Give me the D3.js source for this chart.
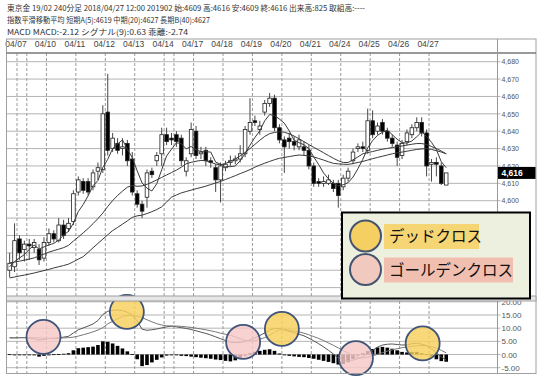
<!DOCTYPE html>
<html><head><meta charset="utf-8">
<script src="https://cdn.jsdelivr.net/npm/d3@7"></script>
<style>body{margin:0;background:#fff;}svg{display:block;}</style>
</head><body>
<svg id="chart" width="545" height="383"></svg>
<script>
// ---------- DATA ----------
const headerLines = [
  "東京金 19/02 240分足 2018/04/27 12:00 201902 始:4609 高:4616 安:4609 終:4616 出来高:825 取組高:----",
  "指数平滑移動平均 短期A(5):4619 中期(20):4627 長期B(40):4627",
  "MACD MACD:-2.12 シグナル(9):0.63 乖離:-2.74"
];
const dateLabels = ["04/07","04/10","04/11","04/12","04/13","04/14","04/17","04/18","04/19","04/20","04/21","04/24","04/25","04/26","04/27"];
const dayStartBar = [2,8,14,20,26,32,38,44,50,56,62,68,74,80,86];
const extraMarkBar = [4,34];
const opens  = [4560,4562,4578,4572,4575,4573,4572,4567,4576,4581,4577,4586,4584,4588,4605,4611,4611,4608,4617,4618,4651,4630,4633,4630,4633,4624,4604,4598,4602,4617,4623,4627,4638,4636,4638,4636,4617,4627,4640,4627,4629,4623,4619,4612,4619,4622,4623,4624,4627,4640,4646,4641,4651,4656,4659,4642,4635,4636,4634,4631,4631,4629,4620,4611,4610,4610,4610,4610,4608,4613,4623,4630,4631,4629,4646,4640,4645,4640,4636,4632,4626,4634,4638,4642,4645,4639,4621,4622,4620,4609];
const highs  = [4570,4587,4580,4577,4578,4578,4575,4579,4584,4583,4590,4589,4590,4606,4614,4613,4613,4618,4622,4655,4673,4639,4636,4636,4635,4628,4606,4600,4618,4619,4628,4642,4642,4639,4640,4638,4625,4645,4643,4631,4631,4625,4621,4622,4623,4626,4626,4632,4643,4659,4649,4646,4658,4662,4661,4644,4637,4639,4637,4638,4634,4632,4622,4613,4614,4615,4612,4612,4615,4619,4630,4633,4634,4653,4652,4645,4647,4642,4638,4634,4635,4641,4644,4648,4648,4641,4624,4625,4622,4616];
const lows   = [4556,4559,4566,4565,4566,4570,4563,4565,4574,4576,4576,4578,4582,4586,4603,4604,4603,4606,4612,4616,4626,4628,4627,4626,4620,4603,4596,4590,4596,4613,4620,4620,4632,4632,4631,4620,4614,4625,4624,4624,4620,4619,4605,4599,4617,4620,4621,4622,4625,4638,4643,4638,4649,4654,4640,4633,4616,4630,4629,4629,4626,4618,4608,4608,4608,4609,4605,4596,4606,4611,4621,4628,4628,4627,4636,4638,4638,4634,4631,4620,4624,4632,4636,4640,4637,4614,4611,4614,4609,4609];
const closes = [4564,4577,4570,4575,4574,4576,4566,4576,4581,4578,4586,4580,4587,4604,4612,4606,4605,4616,4619,4650,4629,4636,4629,4631,4623,4605,4598,4594,4616,4615,4626,4638,4634,4635,4634,4623,4623,4641,4626,4628,4623,4622,4612,4620,4621,4623,4624,4627,4641,4645,4645,4643,4656,4659,4642,4635,4631,4634,4632,4635,4629,4620,4610,4610,4611,4612,4607,4603,4613,4617,4628,4631,4630,4646,4638,4643,4640,4636,4633,4625,4633,4639,4642,4645,4639,4620,4622,4621,4610,4616];
const maShort = [4562,4565,4567,4569,4572,4574.4,4572.2,4573.4,4574.6,4575.4,4577.4,4580.2,4582.4,4587,4593.8,4597.8,4602.8,4608.6,4611.6,4619.2,4623.8,4630,4632.6,4635,4629.6,4624.8,4617.2,4610.2,4607.2,4605.6,4609.8,4617.8,4625.8,4629.6,4633.4,4632.8,4629.8,4631.2,4629.4,4628.2,4628.2,4628,4622.2,4621,4619.6,4619.6,4620,4623,4627.2,4632,4636.4,4640.2,4646,4649.6,4649,4647,4644.6,4640.2,4634.8,4633.4,4632.2,4630,4625.2,4620.8,4616,4612.6,4610,4608.6,4609.2,4610.4,4613.6,4618.4,4623.8,4630.4,4634.6,4637.6,4639.4,4640.6,4638,4635.4,4633.4,4633.2,4634.4,4636.8,4639.6,4637,4633.6,4629.4,4622.4,4619];
const maMid = [4564.2,4564.7,4565.2,4565.8,4566.4,4567.1,4568.2,4569.3,4570.4,4571.3,4572.1,4573,4574.3,4576.8,4579.1,4581.5,4584,4586.8,4589.7,4592.9,4596.7,4600.1,4603,4605.5,4607.8,4608.8,4608.3,4608.5,4609.5,4610.6,4612,4613.4,4614.8,4616.2,4617.6,4619.3,4621.3,4622.1,4622.7,4623.2,4623,4622.1,4621.1,4620.6,4621.4,4622.7,4624,4625.8,4627.8,4630,4632.4,4634.8,4637,4638.6,4639.3,4639.7,4639.4,4638.5,4637.2,4635.6,4634,4632.3,4630.7,4629.2,4627.6,4626,4624.4,4623,4622,4622,4623.5,4625.2,4627,4627.7,4628.3,4629,4629.6,4630.1,4630.6,4631,4631.5,4632,4632.5,4632.9,4632.9,4632.3,4631.2,4630,4628.6,4627];
const maLong = [4555.6,4556.1,4556.7,4557.2,4557.8,4558.4,4559.1,4559.8,4560.5,4561.3,4562,4562.7,4563.5,4564.9,4566.4,4567.8,4570.3,4572.9,4575.4,4577.9,4580.4,4582.8,4584.6,4586.5,4588.4,4590.4,4591.3,4591.7,4592.6,4593.7,4594.9,4596.5,4599.3,4602,4603.3,4604.5,4605.3,4606.1,4606.9,4607.6,4608.4,4609.3,4610.2,4611.1,4612.2,4613.3,4614.4,4615.6,4616.7,4617.9,4619.3,4620.5,4621.6,4622.6,4623.6,4624.4,4624.9,4625.4,4625.9,4626.3,4626.1,4625.7,4625.2,4624.3,4623.4,4622.4,4621.5,4621.2,4621,4620.9,4621.4,4622,4622.6,4623.4,4624.2,4624.9,4625.6,4626.3,4627,4627.5,4628,4628.5,4629,4629.5,4629.8,4630,4629.5,4628.8,4628,4627];
const macdLine = [6.4,6.3,6.4,6.4,6.2,6.0,5.5,5.7,6.1,6.2,6.4,6.6,6.9,8.2,9.4,10.1,10.8,11.6,12.9,15.2,16.4,16.8,16.9,16.7,16.0,15.0,12.7,9.6,9.2,9.4,9.7,10.1,10.5,10.8,10.5,10.2,9.9,9.5,9.0,8.5,8.0,7.4,6.7,6.0,5.3,4.7,4.5,4.6,5.0,5.6,6.3,7.2,8.2,9.3,9.9,9.8,9.3,8.8,8.3,7.7,7.1,6.2,5.2,4.1,2.9,1.6,0.2,-1.3,-2.1,-2.3,-2.1,-1.6,-0.8,0.3,1.6,2.8,3.6,3.9,4.0,3.8,3.6,3.7,4.1,4.3,3.9,3.4,2.2,0.6,-0.9,-2.12];
const signalLine = [6.3,6.4,6.4,6.4,6.4,6.3,6.3,6.2,6.1,6.1,6.2,6.3,6.4,6.6,7.0,7.5,8.0,8.6,9.3,10.2,11.6,12.6,13.6,14.4,14.8,14.8,14.5,14.0,13.2,12.4,11.7,11.2,10.9,10.8,10.8,10.7,10.5,10.3,10.0,9.7,9.4,9.0,8.6,8.1,7.7,7.3,6.7,6.0,5.4,5.1,5.3,5.8,6.4,7.3,8.5,9.4,9.5,9.3,9.0,8.6,8.1,7.5,6.8,6.1,5.3,4.4,3.5,2.5,1.5,0.6,-0.5,-1.2,-1.3,-1.0,-0.5,0.1,0.7,1.3,1.8,2.2,2.6,2.9,3.1,3.3,3.4,3.3,3.0,2.4,1.6,0.63];
const histogram = [0.1,-0.1,0,0,-0.2,-0.3,-0.8,-0.5,0,0.1,0.2,0.3,0.5,1.6,2.4,2.6,2.8,3.0,3.6,5.0,4.8,4.2,3.3,2.3,1.2,0.2,-1.8,-4.4,-4.0,-3.0,-2.0,-1.1,-0.4,0,-0.3,-0.5,-0.6,-0.8,-1.0,-1.2,-1.4,-1.6,-1.9,-2.1,-2.4,-2.6,-2.2,-1.4,-0.4,0.5,1.0,1.4,1.8,2.0,1.4,0.4,-0.2,-0.5,-0.7,-0.9,-1.0,-1.3,-1.6,-2.0,-2.4,-2.8,-3.3,-3.8,-3.6,-2.9,-1.6,-0.4,0.5,1.3,2.1,2.7,2.9,2.6,2.2,1.6,1.0,0.8,1.0,1.0,0.5,0.1,-0.8,-1.8,-2.5,-2.74];
const priceGridTicks = [4550,4560,4570,4580,4590,4600,4610,4620,4630,4640,4650,4660,4670,4680];
const priceLabelTicks = [4600,4610,4620,4630,4640,4650,4660,4670,4680];
const macdTicks = [-5,0,5,10,15,20];
const lastPrice = 4616;
const deadCrossBars = [23.9, 55.5, 84.2];
const deadCrossValues = [16.2, 9.7, 4.2];
const goldenCrossBars = [6.9, 47.6, 70.6];
const goldenCrossValues = [6.7, 4.8, -1.4];
const legendItems = ["デッドクロス", "ゴールデンクロス"];

// ---------- LAYOUT ----------
const svg = d3.select("#chart");
const L = 6.5, R = 497.5, RR = 536;
const priceTop = 53, priceBot = 296, macdTop = 301, macdBot = 373.5;
const JP = "'Noto Sans CJK JP','Noto Sans',sans-serif";
const LAT = "'Liberation Sans','DejaVu Sans',sans-serif";

const x = d3.scaleLinear().domain([0, 89]).range([9.64, 446.2]);
const yP = d3.scaleLinear().domain([4550, 4680]).range([287.6, 61.7]);
const yM = d3.scaleLinear().domain([-5, 15]).range([367.7, 315]);
const loc = d3.formatLocale({decimal: ".", thousands: ",", grouping: [3], currency: ["", ""], minus: "-"});

// header
const hdrW = [358, 203, 181];
svg.selectAll("text.hdr").data(headerLines).join("text")
  .attr("class", "hdr").attr("x", 7).attr("y", (d, i) => 10.5 + i * 12)
  .attr("font-family", JP).attr("font-size", 8).attr("fill", "#333")
  .attr("textLength", (d, i) => hdrW[i]).attr("lengthAdjust", "spacingAndGlyphs")
  .text(d => d);

// clip paths
const defs = svg.append("defs");
defs.append("clipPath").attr("id", "cp").append("rect").attr("x", L).attr("y", priceTop).attr("width", R - L).attr("height", priceBot - priceTop);
defs.append("clipPath").attr("id", "cm").append("rect").attr("x", L).attr("y", macdTop).attr("width", R - L).attr("height", macdBot - macdTop);

// price grid
const gp = svg.append("g");
gp.selectAll("line.h").data(priceGridTicks).join("line")
  .attr("x1", L).attr("x2", R + 3).attr("y1", d => yP(d)).attr("y2", d => yP(d))
  .attr("stroke", "#b4b4b4").attr("stroke-width", 1);
const vlines = dayStartBar.concat(extraMarkBar);
gp.selectAll("line.v").data(vlines).join("line")
  .attr("x1", d => x(d - 0.5)).attr("x2", d => x(d - 0.5)).attr("y1", priceTop).attr("y2", priceBot)
  .attr("stroke", "#9a9a9a").attr("stroke-dasharray", "3,2");

// macd grid
const gm = svg.append("g");
gm.selectAll("line.h").data(macdTicks).join("line")
  .attr("x1", L).attr("x2", R + 3).attr("y1", d => yM(d)).attr("y2", d => yM(d))
  .attr("stroke", "#b4b4b4");
gm.selectAll("line.v").data(vlines).join("line")
  .attr("x1", d => x(d - 0.5)).attr("x2", d => x(d - 0.5)).attr("y1", macdTop).attr("y2", macdBot)
  .attr("stroke", "#9a9a9a").attr("stroke-dasharray", "3,2");

// date labels
svg.selectAll("text.date").data(dateLabels).join("text")
  .attr("x", (d, i) => x(dayStartBar[i] - 0.5) - 1).attr("y", 46.5)
  .attr("text-anchor", "middle").attr("font-family", LAT).attr("font-size", 8.5).attr("fill", "#444")
  .text(d => d);

// candles
const bars = d3.range(opens.length).map(i => ({i, o: opens[i], h: highs[i], l: lows[i], c: closes[i]}));
const cg = svg.append("g").attr("clip-path", "url(#cp)");
cg.selectAll("line.wick").data(bars).join("line")
  .attr("x1", d => x(d.i)).attr("x2", d => x(d.i)).attr("y1", d => yP(d.h)).attr("y2", d => yP(d.l))
  .attr("stroke", "#333").attr("stroke-width", 0.9);
cg.selectAll("rect.body").data(bars).join("rect")
  .attr("x", d => x(d.i) - 1.8).attr("width", 3.6)
  .attr("y", d => yP(Math.max(d.o, d.c)))
  .attr("height", d => Math.max(0.8, Math.abs(yP(d.o) - yP(d.c))))
  .attr("fill", d => d.c >= d.o ? "#fff" : "#000").attr("stroke", "#222").attr("stroke-width", 0.8);

// moving averages
const maLine = d3.line().x((d, i) => x(i)).y(d => yP(d));
[maShort, maMid, maLong].forEach(arr => {
  cg.append("path").attr("d", maLine(arr)).attr("fill", "none").attr("stroke", "#3a3a3a").attr("stroke-width", 1);
});

// macd
const mg = svg.append("g").attr("clip-path", "url(#cm)");
mg.selectAll("rect.hist").data(histogram).join("rect")
  .attr("x", (d, i) => x(i) - 1.8).attr("width", 3.6)
  .attr("y", d => yM(Math.max(0, d))).attr("height", d => Math.max(0.8, Math.abs(yM(d) - yM(0))))
  .attr("fill", "#000");
const mLine = d3.line().x((d, i) => x(i)).y(d => yM(d));
mg.append("path").attr("d", mLine(macdLine)).attr("fill", "none").attr("stroke", "#555").attr("stroke-width", 1);
mg.append("path").attr("d", mLine(signalLine)).attr("fill", "none").attr("stroke", "#777").attr("stroke-width", 1);

// cross markers
const crosses = deadCrossBars.map((b, i) => ({b, v: deadCrossValues[i], f: "#f6cf5a"}))
  .concat(goldenCrossBars.map((b, i) => ({b, v: goldenCrossValues[i], f: "#f6c8c6"})));
svg.selectAll("circle.cross").data(crosses).join("circle")
  .attr("cx", d => x(d.b)).attr("cy", d => yM(d.v)).attr("r", 17)
  .attr("fill", d => d.f).attr("fill-opacity", 0.82)
  .attr("stroke", "#3f5478").attr("stroke-width", 1.8);

// price axis labels
const pAxis = svg.append("g").attr("transform", `translate(${R},0)`)
  .call(d3.axisRight(yP).tickValues(priceLabelTicks).tickSize(0).tickPadding(4).tickFormat(loc.format(",")));
pAxis.select(".domain").remove();
pAxis.selectAll("text").attr("font-family", LAT).attr("font-size", 7).attr("fill", "#555");

// macd axis labels
const mAxis = svg.append("g").attr("transform", `translate(${R},0)`)
  .call(d3.axisRight(yM).tickValues(macdTicks).tickSize(0).tickPadding(4).tickFormat(loc.format(".2f")));
mAxis.select(".domain").remove();
mAxis.selectAll("text").attr("font-family", LAT).attr("font-size", 8).attr("fill", "#555");

// frame
const fr = svg.append("g").attr("fill", "none");
fr.append("rect").attr("x", L).attr("y", 39).attr("width", RR - L).attr("height", macdBot - 39).attr("stroke", "#a0a0a0");
fr.append("line").attr("x1", L).attr("x2", RR).attr("y1", priceTop).attr("y2", priceTop).attr("stroke", "#777").attr("stroke-width", 1.3);
fr.append("line").attr("x1", R).attr("x2", R).attr("y1", 39).attr("y2", macdBot).attr("stroke", "#999");
svg.append("rect").attr("x", L).attr("y", priceBot).attr("width", RR - L).attr("height", macdTop - priceBot)
  .attr("fill", "#e6e6e6").attr("stroke", "#a0a0a0");

// last price tag
const lp = svg.append("g");
lp.append("rect").attr("x", R + 0.5).attr("y", yP(lastPrice) - 6).attr("width", RR - R - 1).attr("height", 12).attr("fill", "#000");
lp.append("text").attr("x", R + 4).attr("y", yP(lastPrice) + 3.5).attr("font-family", LAT).attr("font-size", 8.5)
  .attr("font-weight", "bold").attr("fill", "#fff").text(loc.format(",")(lastPrice));

// legend
const lg = svg.append("g");
lg.append("rect").attr("x", 342).attr("y", 212.5).attr("width", 188).attr("height", 86).attr("fill", "#edf0df").attr("stroke", "#000").attr("stroke-width", 2);
const legFill = ["#f5cf62", "#f2c9bf"], legRect = ["#f6d674", "#f1bfaf"], legW = [95, 129];
legendItems.forEach((t, i) => {
  const cy = 236 + i * 33.5;
  lg.append("rect").attr("x", 384).attr("y", cy - 12).attr("width", legW[i]).attr("height", 25).attr("fill", legRect[i]);
  lg.append("circle").attr("cx", 365.5).attr("cy", cy).attr("r", 15.5).attr("fill", legFill[i]).attr("stroke", "#44546e").attr("stroke-width", 2);
  lg.append("text").attr("x", 389).attr("y", cy + 6).attr("font-family", JP).attr("font-size", 15.5).attr("fill", "#111").text(t);
});
</script>
</body></html>
